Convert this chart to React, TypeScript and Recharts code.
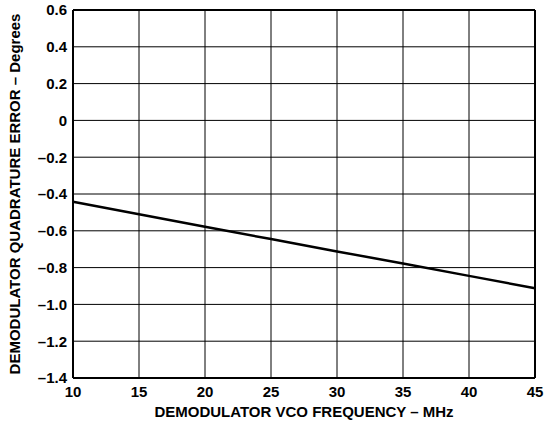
import React from "react";
import {
  LineChart,
  Line,
  XAxis,
  YAxis,
  CartesianGrid,
  ReferenceLine,
} from "recharts";

const frequencies = [10, 15, 20, 25, 30, 35, 40, 45];
const errors = [-0.442, -0.51, -0.578, -0.645, -0.712, -0.778, -0.845, -0.912];
const xTicks = [10, 15, 20, 25, 30, 35, 40, 45];
const yTicks = [-1.4, -1.2, -1.0, -0.8, -0.6, -0.4, -0.2, 0, 0.2, 0.4, 0.6];

const data = frequencies.map((f, i) => ({ f, e: errors[i] }));

const font = "'Liberation Sans', Arial, sans-serif";

const fmtY = (v: number) => {
  if (Math.abs(v) < 1e-9) return "0";
  const s = Math.abs(v).toFixed(1);
  return v < 0 ? "\u2013" + s : s;
};

export default function App() {
  return (
    <div style={{ position: "absolute", left: 0, top: 0, width: 548, height: 423, background: "#fff" }}>
      <LineChart
        width={548}
        height={423}
        data={data}
        margin={{ top: 10, right: 13, bottom: 0, left: 0 }}
      >
        <CartesianGrid stroke="#000" strokeWidth={1} horizontalValues={yTicks} verticalValues={xTicks} />
        <XAxis
          dataKey="f"
          type="number"
          domain={[10, 45]}
          ticks={xTicks}
          height={45}
          tickLine={false}
          axisLine={{ stroke: "#000", strokeWidth: 2 }}
          tick={{ fill: "#000", fontSize: 15, fontWeight: "bold", fontFamily: font }}
          tickMargin={2}
          label={{
            value: "DEMODULATOR VCO FREQUENCY \u2013 MHz",
            position: "insideBottom",
            offset: 6,
            fill: "#000",
            fontSize: 15,
            fontWeight: "bold",
            fontFamily: font,
          }}
        />
        <YAxis
          type="number"
          domain={[-1.4, 0.6]}
          ticks={yTicks}
          width={73}
          tickLine={false}
          interval={0}
          tickFormatter={fmtY}
          axisLine={{ stroke: "#000", strokeWidth: 2 }}
          tick={{ fill: "#000", fontSize: 15, fontWeight: "bold", fontFamily: font }}
          tickMargin={0}
          label={{
            value: "DEMODULATOR QUADRATURE ERROR \u2013 Degrees",
            angle: -90,
            position: "insideLeft",
            offset: 15,
            style: { textAnchor: "middle" },
            fill: "#000",
            fontSize: 15,
            fontWeight: "bold",
            fontFamily: font,
          }}
        />
        <ReferenceLine y={0.6} stroke="#000" strokeWidth={2} />
        <ReferenceLine x={45} stroke="#000" strokeWidth={2} />
        <Line
          type="linear"
          dataKey="e"
          stroke="#000"
          strokeWidth={2.5}
          dot={false}
          isAnimationActive={false}
        />
      </LineChart>
    </div>
  );
}
